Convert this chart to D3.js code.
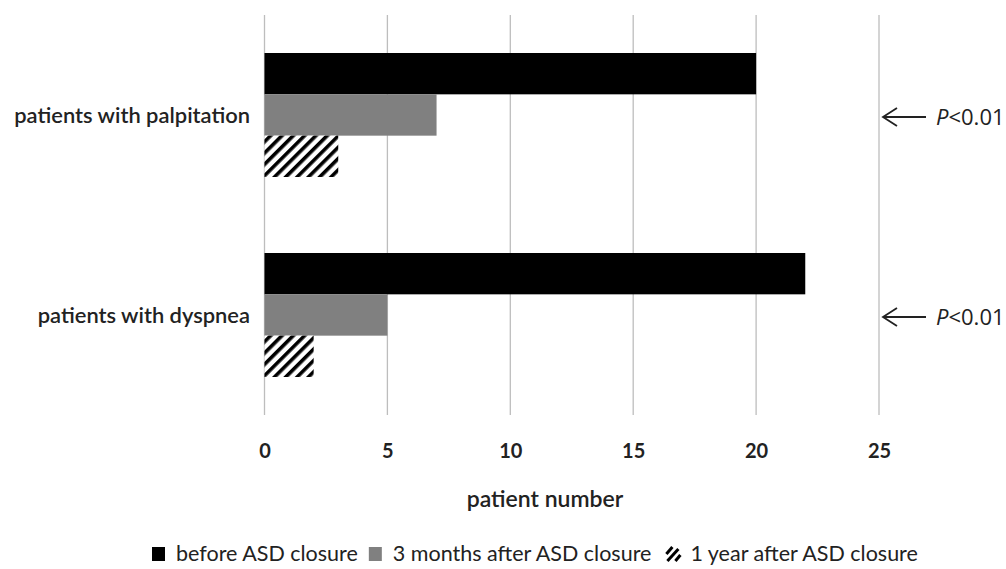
<!DOCTYPE html>
<html lang="en">
<head>
<meta charset="UTF-8">
<title>Symptoms before and after ASD closure</title>
<script src="https://d3js.org/d3.v7.min.js"></script>
<style>
  body { margin: 0; background: #fff; }
  text { font-family: Lato, "Open Sans", sans-serif; fill: #222; }
</style>
</head>
<body>
<svg id="chart" width="1006" height="569"></svg>
<script>
const categories = ["patients with palpitation", "patients with dyspnea"];
const seriesNames = ["before ASD closure", "3 months after ASD closure", "1 year after ASD closure"];
const beforeClosure = [20, 22];
const after3Months = [7, 5];
const after1Year = [3, 2];
const xTicks = [0, 5, 10, 15, 20, 25];
const pLabels = ["P<0.01", "P<0.01"];

const svg = d3.select("#chart");
const margin = {left: 264.5, right: 1006 - 879, top: 15, bottom: 569 - 415};
const width = 1006, height = 569;

const x = d3.scaleLinear().domain([0, 25]).range([margin.left, width - margin.right]);
const y = d3.scaleBand().domain(categories).range([margin.top, height - margin.bottom]).paddingInner(0.38).paddingOuter(0.19);
const ySub = d3.scaleBand().domain(seriesNames).range([0, y.bandwidth()]);

// hatch pattern
const defs = svg.append("defs");
const pat = defs.append("pattern")
  .attr("id", "hatch").attr("patternUnits", "userSpaceOnUse")
  .attr("width", 8).attr("height", 8)
  .attr("patternTransform", "rotate(45)");
pat.append("rect").attr("width", 8).attr("height", 8).attr("fill", "#fff");
pat.append("rect").attr("x", 0).attr("width", 3.6).attr("height", 8).attr("fill", "#000");

// gridlines
svg.append("g").selectAll("line").data(xTicks).join("line")
  .attr("x1", d => x(d)).attr("x2", d => x(d))
  .attr("y1", margin.top).attr("y2", height - margin.bottom)
  .attr("stroke", "#bdbdbd").attr("stroke-width", 1.3);

const fills = ["#000", "#808080", "url(#hatch)"];
const rows = categories.map((c, i) => ({cat: c, vals: [beforeClosure[i], after3Months[i], after1Year[i]]}));

const groups = svg.append("g").selectAll("g").data(rows).join("g")
  .attr("transform", d => `translate(0,${y(d.cat)})`);
groups.selectAll("rect").data(d => d.vals.map((v, j) => ({v, s: seriesNames[j], j}))).join("rect")
  .attr("x", x(0)).attr("y", d => ySub(d.s))
  .attr("width", d => x(d.v) - x(0)).attr("height", ySub.bandwidth())
  .attr("fill", d => fills[d.j]);

// category labels
svg.append("g").selectAll("text").data(categories).join("text")
  .attr("x", 250).attr("y", d => y(d) + y.bandwidth() / 2 + 8)
  .attr("text-anchor", "end").attr("font-size", 21.9).attr("font-weight", 600)
  .attr("fill", "#2a2a2a")
  .text(d => d);

// x axis tick labels
const xAxis = d3.axisBottom(x).tickValues(xTicks).tickSize(0).tickPadding(0);
const ax = svg.append("g").attr("transform", `translate(0,${height - margin.bottom})`).call(xAxis);
ax.select(".domain").remove();
ax.selectAll("text").attr("y", 43).attr("dy", 0).attr("font-size", 20).attr("font-weight", 700)
  .style("font-family", "Lato, sans-serif").attr("fill", "#222");

svg.append("text").attr("x", 545).attr("y", 507).attr("text-anchor", "middle")
  .attr("font-size", 23).attr("font-weight", 600).text("patient number");

// p-value annotations
const ann = svg.append("g").selectAll("g").data(categories).join("g")
  .attr("transform", (d) => `translate(0,${y(d) + y.bandwidth() / 2 + 2})`);
ann.append("line").attr("x1", 883).attr("x2", 926).attr("y1", 0).attr("y2", 0)
  .attr("stroke", "#222").attr("stroke-width", 1.8);
ann.append("path").attr("d", "M897,-9 L883,0 L897,9").attr("fill", "none")
  .attr("stroke", "#222").attr("stroke-width", 1.8);
ann.append("text").attr("x", 936).attr("y", 8).attr("font-size", 22)
  .style("font-family", "'Open Sans', sans-serif")
  .each(function(d, i) {
    const t = d3.select(this);
    const s = pLabels[i];
    t.append("tspan").attr("font-style", "italic").text(s[0]);
    t.append("tspan").text(s.slice(1));
  });

// legend, laid out one after another
const legend = svg.append("g").attr("transform", "translate(152,555)");
let cursor = 0;
seriesNames.forEach((name, j) => {
  const g = legend.append("g").attr("transform", `translate(${cursor},0)`);
  if (j < 2) {
    g.append("rect").attr("x", 0).attr("y", -8).attr("width", 13).attr("height", 14).attr("fill", fills[j]);
  } else {
    g.append("line").attr("x1", 4).attr("y1", -1).attr("x2", 10).attr("y2", -8).attr("stroke", "#000").attr("stroke-width", 3);
    g.append("line").attr("x1", 5).attr("y1", 6).attr("x2", 16).attr("y2", -6).attr("stroke", "#000").attr("stroke-width", 3);
    g.append("line").attr("x1", 13).attr("y1", 6).attr("x2", 18).attr("y2", 0).attr("stroke", "#000").attr("stroke-width", 3);
  }
  const t = g.append("text").attr("x", j < 2 ? 24 : 28).attr("y", 6).attr("font-size", 21.5).text(name);
  cursor += (j < 2 ? 24 : 28) + t.node().getComputedTextLength() + 11;
});
</script>
</body>
</html>
